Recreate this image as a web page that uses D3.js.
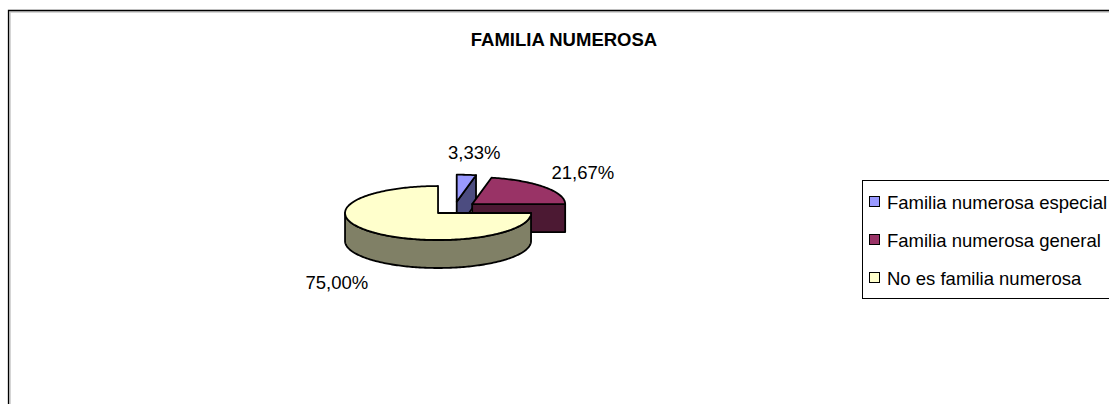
<!DOCTYPE html>
<html>
<head>
<meta charset="utf-8">
<script src="https://cdn.jsdelivr.net/npm/d3@7"></script>
<style>
  body { margin: 0; background: #fff; }
  text { font-family: "Liberation Sans", Arial, sans-serif; fill: #000; }
</style>
</head>
<body>
<svg width="1109" height="404"></svg>
<script>
const categories = ["Familia numerosa especial", "Familia numerosa general", "No es familia numerosa"];
const values = [3.33, 21.67, 75.00];
const valueLabels = ["3,33%", "21,67%", "75,00%"];
const topColors = ["#9999ff", "#993366", "#ffffcc"];
const sideColors = ["#4c4c80", "#4c1933", "#808066"];

const svg = d3.select("svg"),
      width = +svg.attr("width"),
      height = +svg.attr("height");

// marco del gráfico
svg.append("path").attr("d", `M10,${height} V12 H${width}`)
  .attr("fill", "none").attr("stroke", "#c8c8c8").attr("stroke-width", 1.5);
svg.append("path").attr("d", `M8.5,${height} V10.5 H${width}`)
  .attr("fill", "none").attr("stroke", "#000").attr("stroke-width", 1.3);

svg.append("text")
  .attr("x", 564).attr("y", 46)
  .attr("text-anchor", "middle")
  .attr("font-size", 18.5).attr("font-weight", "bold")
  .text("FAMILIA NUMEROSA");

// tarta 3D
const O = {x: 454.3, y: 208.3};
const rx = 93, ry = 27, depth = 28, explode = 23;

const arcs = d3.pie().sort(null).value(d => d)(values)
  .map((a, i) => {
    const mid = (a.startAngle + a.endAngle) / 2;
    return {
      ...a, i, mid,
      c: {x: O.x + explode * Math.sin(mid), y: O.y - explode * ry / rx * Math.cos(mid)}
    };
  });

const pt = (c, a, dy = 0) => [c.x + rx * Math.sin(a), c.y - ry * Math.cos(a) + dy];
const arcPts = (c, a0, a1, dy = 0) => {
  const n = Math.max(2, Math.ceil((a1 - a0) / 0.02));
  return d3.range(n + 1).map(k => pt(c, a0 + (a1 - a0) * k / n, dy));
};
const line = d3.line();
const poly = p => line(p) + "Z";

const g = svg.append("g")
  .attr("stroke", "#000").attr("stroke-width", 1.8).attr("stroke-linejoin", "round");

// de atrás hacia delante
arcs.slice().sort((a, b) => Math.cos(b.mid) - Math.cos(a.mid)).forEach(d => {
  const {c, startAngle: a0, endAngle: a1} = d;
  // cara radial final
  if (Math.sin(a1) > 1e-6) {
    const p = pt(c, a1);
    g.append("path").attr("fill", sideColors[d.i])
      .attr("d", poly([[c.x, c.y], p, [p[0], p[1] + depth], [c.x, c.y + depth]]));
  }
  // cara radial inicial
  if (Math.sin(a0) < -1e-6) {
    const p = pt(c, a0);
    g.append("path").attr("fill", sideColors[d.i])
      .attr("d", poly([[c.x, c.y], p, [p[0], p[1] + depth], [c.x, c.y + depth]]));
  }
  // pared exterior visible
  const w0 = Math.max(a0, Math.PI / 2), w1 = Math.min(a1, 3 * Math.PI / 2);
  if (w1 - w0 > 1e-6) {
    g.append("path").attr("fill", sideColors[d.i])
      .attr("d", poly(arcPts(c, w0, w1).concat(arcPts(c, w0, w1, depth).reverse())));
  }
  // cara superior
  g.append("path").attr("fill", topColors[d.i])
    .attr("d", poly([[c.x, c.y]].concat(arcPts(c, a0, a1))));
});

// etiquetas de porcentaje
arcs.forEach(d => {
  const s = Math.sin(d.mid), co = Math.cos(d.mid);
  const e = pt(d.c, d.mid, co < 0 ? depth : 0);
  const lx = e[0] + s * 47 + 3 * co;
  const ly = e[1] - co * (co < 0 ? 33 : 22) + 6;
  svg.append("text")
    .attr("x", lx).attr("y", ly)
    .attr("text-anchor", "middle")
    .attr("font-size", 18.5)
    .text(valueLabels[d.i]);
});

// leyenda
const legend = svg.append("g").attr("transform", "translate(862,180)");
legend.append("rect")
  .attr("x", 0.5).attr("y", 0.5).attr("width", 300).attr("height", 118)
  .attr("fill", "#fff").attr("stroke", "#000").attr("stroke-width", 1);
const rowY = d3.scalePoint().domain(categories).range([22, 98]);
const rows = legend.selectAll("g.row").data(categories).join("g")
  .attr("class", "row")
  .attr("transform", d => `translate(0,${rowY(d)})`);
rows.append("rect")
  .attr("x", 7.5).attr("y", -5.5).attr("width", 10).attr("height", 10)
  .attr("fill", (d, i) => topColors[i]).attr("stroke", "#000").attr("stroke-width", 1);
rows.append("text")
  .attr("x", 25).attr("y", 6.5)
  .attr("font-size", 18.5)
  .text(d => d);
</script>
</body>
</html>
